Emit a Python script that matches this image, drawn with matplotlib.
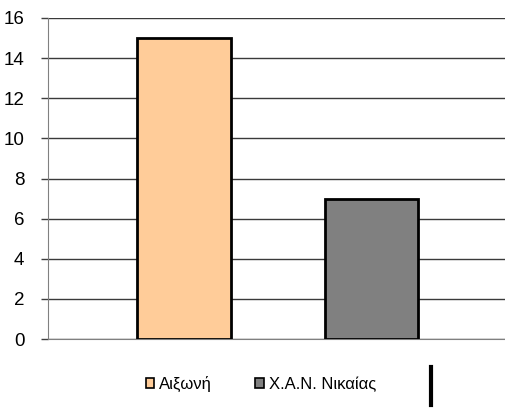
import matplotlib
matplotlib.use("Agg")
import matplotlib.pyplot as plt
from matplotlib.patches import Patch
from matplotlib.lines import Line2D

# data
series_names = ["Αιξωνή", "Χ.Α.Ν. Νικαίας"]
values = [15, 7]
colors = ["#FFCC99", "#808080"]
y_ticks = [0, 2, 4, 6, 8, 10, 12, 14, 16]

plt.rcParams['font.family'] = ['Liberation Sans', 'DejaVu Sans']

W, H = 506, 409
fig = plt.figure(figsize=(W / 100, H / 100), dpi=100)
ax = fig.add_axes([48 / W, (H - 339) / H, (506 - 48) / W, (339 - 18) / H])

x_pos = list(range(len(values)))
ax.bar(x_pos, values, width=0.5, color=colors, edgecolor="black", linewidth=2, zorder=3)

ax.set_ylim(0, 16)
ax.set_yticks(y_ticks)
ax.set_xlim(-0.725, 1.717)
ax.set_xticks([])
ax.yaxis.grid(True, color="#3a3a3a", linewidth=1.0, zorder=0)
ax.set_axisbelow(True)

for side in ["top", "right"]:
    ax.spines[side].set_visible(False)
ax.spines["left"].set_color("#808080")
ax.spines["bottom"].set_color("#808080")
ax.tick_params(axis="y", length=5, width=1, color="#404040", labelsize=13.5, pad=12)

handles = [Patch(facecolor=c, edgecolor="black", linewidth=1.2) for c in colors]
fig.legend(handles, series_names, loc="center", bbox_to_anchor=(261 / W, 1 - 384 / H),
           ncol=2, frameon=False, fontsize=12, handlelength=0.5, handleheight=0.5,
           handletextpad=0.3, columnspacing=2.6)

# stray vertical mark right of the legend
fig.add_artist(Line2D([431.5 / W, 431.5 / W], [1 - 367 / H, 1 - 405 / H],
                      color="black", linewidth=3, transform=fig.transFigure))

fig.savefig("out.png", dpi=100)
